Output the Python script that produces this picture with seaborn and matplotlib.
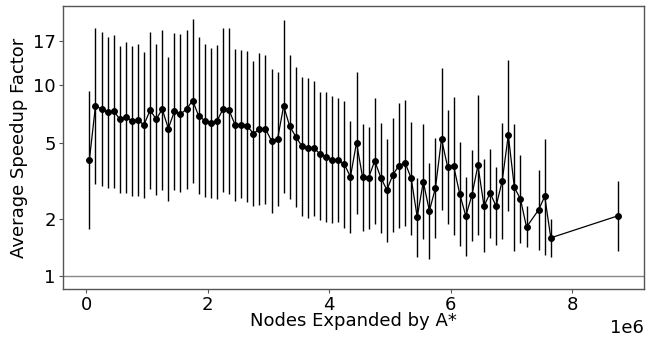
import numpy as np
import matplotlib
matplotlib.use('Agg')
import matplotlib.pyplot as plt
import matplotlib.ticker as mticker
import seaborn as sns

# Nodes expanded by A* (bin centres, in millions)
nodes_m = [0.05, 0.15, 0.25, 0.35, 0.45, 0.55, 0.65, 0.75, 0.85, 0.95,
           1.05, 1.15, 1.25, 1.35, 1.45, 1.55, 1.65, 1.75, 1.85, 1.95,
           2.05, 2.15, 2.25, 2.35, 2.45, 2.55, 2.65, 2.75, 2.85, 2.95,
           3.05, 3.15, 3.25, 3.35, 3.45, 3.55, 3.65, 3.75, 3.85, 3.95,
           4.05, 4.15, 4.25, 4.35, 4.45, 4.55, 4.65, 4.75, 4.85, 4.95,
           5.05, 5.15, 5.25, 5.35, 5.45, 5.55, 5.65, 5.75, 5.85, 5.95,
           6.05, 6.15, 6.25, 6.35, 6.45, 6.55, 6.65, 6.75, 6.85, 6.95,
           7.05, 7.15, 7.25, 7.45, 7.55, 7.65, 8.75]

# Average speedup factor
speedup = [4.07, 7.78, 7.54, 7.21, 7.36, 6.65, 6.79, 6.54, 6.57, 6.21,
           7.42, 6.65, 7.50, 5.94, 7.30, 7.07, 7.50, 8.33, 6.92, 6.54,
           6.34, 6.49, 7.50, 7.42, 6.21, 6.23, 6.13, 5.59, 5.89, 5.92,
           5.12, 5.24, 7.81, 6.09, 5.39, 4.80, 4.72, 4.70, 4.36, 4.24,
           4.08, 4.08, 3.86, 3.32, 5.01, 3.30, 3.29, 4.02, 3.29, 2.83,
           3.41, 3.80, 3.94, 3.26, 2.04, 3.13, 2.20, 2.90, 5.24, 3.75,
           3.78, 2.70, 2.07, 2.65, 3.81, 2.33, 2.73, 2.33, 3.17, 5.48,
           2.92, 2.54, 1.81, 2.23, 2.62, 1.59, 2.07]

# lower / upper ends of the error bars
lower = [1.77, 3.03, 2.96, 2.89, 2.91, 2.72, 2.73, 2.64, 2.63, 2.57,
         2.86, 2.66, 2.83, 2.48, 2.82, 2.77, 2.88, 3.07, 2.69, 2.61,
         2.58, 2.55, 2.77, 2.70, 2.48, 2.58, 2.46, 2.33, 2.35, 2.39,
         2.15, 2.32, 2.74, 2.54, 2.30, 2.07, 2.02, 2.07, 1.98, 1.92,
         1.89, 1.92, 1.78, 1.69, 2.13, 1.72, 1.77, 1.87, 1.69, 1.52,
         1.71, 1.78, 1.84, 1.64, 1.26, 1.56, 1.23, 1.59, 2.22, 1.88,
         1.64, 1.44, 1.27, 1.53, 1.64, 1.34, 1.59, 1.46, 1.56, 2.20,
         1.36, 1.50, 1.42, 1.38, 1.30, 1.26, 1.35]

upper = [9.37, 19.98, 19.04, 17.99, 18.44, 16.14, 16.81, 16.14, 16.47, 14.95,
         19.04, 16.54, 19.59, 14.13, 18.81, 18.66, 19.43, 22.28, 17.93, 16.47,
         15.69, 16.34, 19.98, 19.98, 15.50, 15.26, 15.19, 13.36, 14.72, 14.48,
         12.17, 11.69, 22.11, 14.48, 12.52, 11.05, 10.92, 10.53, 9.26, 9.22,
         8.82, 8.54, 8.30, 6.52, 11.79, 6.26, 6.06, 8.58, 6.36, 5.26,
         6.73, 8.04, 8.37, 6.39, 3.29, 6.26, 3.92, 5.31, 12.32, 7.42,
         8.64, 5.04, 3.32, 4.59, 8.89, 4.10, 4.63, 3.72, 6.36, 13.57,
         6.29, 4.30, 2.32, 3.60, 5.24, 2.00, 3.17]

yticks = [1, 2, 5, 10, 17]

x = np.array(nodes_m) * 1e6
y = np.array(speedup)
lo = np.array(lower)
hi = np.array(upper)

fig, ax = plt.subplots(figsize=(6.58, 3.37), dpi=100)
fig.subplots_adjust(left=0.0957, right=0.9787, top=0.982, bottom=0.142)

ax.axhline(1, color='#888888', lw=1)
ax.errorbar(x, y, yerr=[y - lo, hi - y], fmt='none', ecolor='black', elinewidth=1)
sns.lineplot(x=x, y=y, marker='o', color='black', markersize=4.2,
             markeredgecolor='black', linewidth=0.9, ax=ax)

ax.set_yscale('log')
ax.yaxis.set_major_locator(mticker.FixedLocator(yticks))
ax.yaxis.set_major_formatter(mticker.FixedFormatter([str(t) for t in yticks]))
ax.yaxis.set_minor_locator(mticker.NullLocator())

for sp in ax.spines.values():
    sp.set_color('#555555')
    sp.set_linewidth(1.0)

ax.set_xlabel('Nodes Expanded by A*', fontsize=13, labelpad=-2)
ax.set_ylabel('Average Speedup Factor', fontsize=13, labelpad=3.5)
ax.tick_params(labelsize=13, length=3, pad=2.2, color='#555555')
ax.xaxis.get_offset_text().set_fontsize(13)

plt.savefig('out.png')
